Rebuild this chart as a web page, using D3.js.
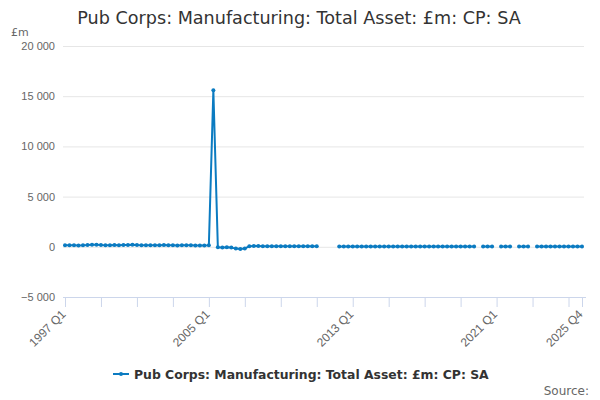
<!DOCTYPE html>
<html lang="en">
<head>
<meta charset="UTF-8">
<title>Pub Corps: Manufacturing: Total Asset</title>
<script src="https://d3js.org/d3.v7.min.js"></script>
<style>
    body { margin: 0; background: #fff; }
    svg { font-family: "DejaVu Sans", sans-serif; }
    .grid line { stroke: #e6e6e6; }
    .tick text { fill: #666; font-size: 11px; }
</style>
</head>
<body>
<div id="chart"></div>
<script>
    // quarterly values, 1997 Q1 .. 2025 Q4 (null = no data)
    const startYear = 1997;
    const values = [
        150, 160, 150, 140, 150, 170, 200, 210, 170, 150, 160, 170, 160, 170, 180, 200,
        170, 160, 150, 160, 150, 160, 170, 160, 150, 140, 150, 160, 150, 140, 130, 140,
        150, 15600, -50, -60, -50, -80, -180, -220, -180, 60, 70, 70, 60, 60, 60, 60,
        60, 50, 50, 50, 50, 50, 50, 50, 50, null, null, null, null, 20, 20, 20,
        20, 20, 20, 20, 20, 20, 20, 20, 20, 20, 20, 20, 20, 20, 20, 20,
        20, 20, 20, 20, 20, 20, 20, 20, 20, 20, 20, 20, null, 20, 20, 20,
        null, 20, 20, 20, null, 20, 20, 20, null, 20, 20, 20, 20, 20, 20, 20,
        20, 20, 20, 20
    ];
    const tickLabels = ["1997 Q1", "2005 Q1", "2013 Q1", "2021 Q1", "2025 Q4"];
    const yTicks = [-5000, 0, 5000, 10000, 15000, 20000];
    const seriesName = "Pub Corps: Manufacturing: Total Asset: £m: CP: SA";

    const quarters = values.map((v, i) => (startYear + Math.floor(i / 4)) + " Q" + (i % 4 + 1));
    const data = values.map((v, i) => ({ q: quarters[i], i: i, v: v }));

    const width = 600, height = 400;
    const margin = { top: 46, right: 18, bottom: 103, left: 65 };
    const plotW = width - margin.left - margin.right,
        plotH = height - margin.top - margin.bottom;
    const color = "#0b7bc1";

    const svg = d3.select("#chart").append("svg")
        .attr("width", width)
        .attr("height", height);

    const x = d3.scaleLinear()
        .domain([0, values.length - 1])
        .range([margin.left, margin.left + 517]);

    const y = d3.scaleLinear()
        .domain([-5000, 20000])
        .range([margin.top + plotH, margin.top]);

    // title
    svg.append("text")
        .attr("x", 299).attr("y", 24)
        .attr("text-anchor", "middle")
        .attr("fill", "#333")
        .style("font-size", "17.6px")
        .text("Pub Corps: Manufacturing: Total Asset: £m: CP: SA");

    svg.append("text")
        .attr("x", 11).attr("y", 36)
        .attr("fill", "#666")
        .style("font-size", "11px")
        .text("£m");

    // horizontal grid + y labels
    const yAxis = svg.append("g")
        .attr("class", "grid")
        .attr("transform", "translate(" + (margin.left - 2) + ",0)")
        .call(d3.axisLeft(y)
            .tickValues(yTicks)
            .tickSize(-(plotW + 4))
            .tickPadding(6)
            .tickFormat(d => d3.format(",")(d).replace(/,/g, " ")));
    yAxis.select(".domain").remove();
    yAxis.selectAll(".tick text").attr("dx", "-2");

    // x axis
    const xTickIdx = d3.range(0, values.length, 8).concat([values.length - 1]);
    const xAxis = svg.append("g")
        .attr("transform", "translate(0," + (margin.top + plotH) + ")")
        .call(d3.axisBottom(x)
            .tickValues(xTickIdx)
            .tickSize(10)
            .tickSizeOuter(0)
            .tickFormat(i => tickLabels.includes(quarters[i]) ? quarters[i] : ""));
    xAxis.select(".domain").attr("stroke", "#ccd6eb")
        .attr("d", "M" + (margin.left - 2) + ",0.5H" + (margin.left + plotW + 4) + "");
    xAxis.selectAll(".tick line").attr("stroke", "#ccd6eb");
    xAxis.selectAll(".tick text")
        .style("font-size", "12px")
        .attr("text-anchor", "end")
        .attr("y", 0)
        .attr("dy", 0)
        .attr("transform", "translate(1,18) rotate(-45)");

    // series
    const line = d3.line()
        .defined(d => d.v !== null)
        .x(d => x(d.i))
        .y(d => y(d.v));

    svg.append("path")
        .datum(data)
        .attr("fill", "none")
        .attr("stroke", color)
        .attr("stroke-width", 2)
        .attr("stroke-linejoin", "round")
        .attr("d", line);

    svg.append("g").selectAll("circle")
        .data(data.filter(d => d.v !== null))
        .join("circle")
        .attr("cx", d => x(d.i))
        .attr("cy", d => y(d.v))
        .attr("r", 2)
        .attr("fill", color);

    // legend
    const legend = svg.append("g").attr("transform", "translate(113,374)");
    legend.append("line")
        .attr("x1", 0).attr("x2", 16)
        .attr("stroke", color).attr("stroke-width", 2);
    legend.append("circle").attr("cx", 8).attr("r", 2).attr("fill", color);
    legend.append("text")
        .attr("x", 21).attr("y", 4.5)
        .attr("fill", "#333")
        .style("font-size", "12.4px")
        .style("font-weight", "bold")
        .text(seriesName);

    svg.append("text")
        .attr("x", 589).attr("y", 395)
        .attr("text-anchor", "end")
        .attr("fill", "#666")
        .style("font-size", "12px")
        .text("Source:");
</script>
</body>
</html>
